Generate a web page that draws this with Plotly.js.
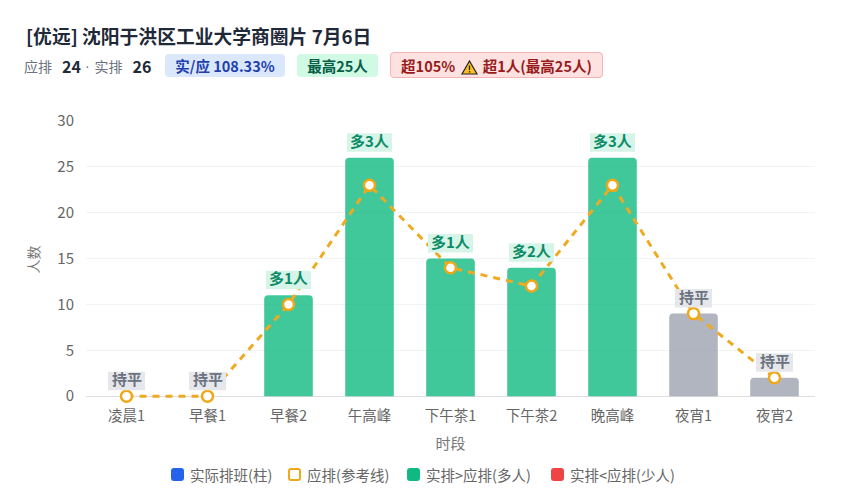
<!DOCTYPE html>
<html>
<head>
<meta charset="utf-8">
<script src="https://cdn.plot.ly/plotly-3.0.1.min.js"></script>
<style>
  html, body { margin: 0; padding: 0; background: #fff; }
  body { width: 846px; height: 500px; position: relative; overflow: hidden;
    font-family: "Noto Sans CJK SC", "Noto Sans", sans-serif; }
  #chart { position: absolute; left: 0; top: 0; width: 846px; height: 500px; }
  .title { position: absolute; left: 26px; top: 23px; font-size: 18.8px; line-height: 26px;
    font-weight: 700; color: #1f2937; white-space: nowrap; }
  .sub { position: absolute; left: 24px; top: 53px; height: 26px; display: flex; align-items: center;
    font-size: 14px; color: #6b7280; white-space: nowrap; }
  .sub b { color: #1f2937; font-size: 16px; margin: 0 4px 0 10px; }
  .sub i { font-style: normal; font-family: "Liberation Sans", sans-serif; margin-right: 5px; }
  .pill { position: absolute; top: 54px; height: 23px; line-height: 23px; border-radius: 4px;
    font-size: 14.5px; font-weight: 700; text-align: center; white-space: nowrap; }
  .blue { left: 165px; width: 120px; background: #dbe7fb; color: #1e40af; }
  .green { left: 297px; width: 81px; background: #d1fae5; color: #065f46; }
  .red { left: 390px; width: 213px; top: 52px; height: 26px; line-height: 25px; background: #fee2e2;
    color: #991b1b; border: 1px solid #f3b4b4; box-sizing: border-box; }
  .red svg { vertical-align: -3px; margin: 0 2px; }
  .swatch { position: absolute; top: 468px; width: 13px; height: 13px; box-sizing: border-box; border-radius: 3px; }
  .legend-text { position: absolute; top: 465px; line-height: 20px; font-size: 14.5px; color: #666; white-space: nowrap; }
</style>
</head>
<body>
<div id="chart"></div>
<div class="title">[优远] 沈阳于洪区工业大学商圈片 7月6日</div>
<div class="sub">应排<b>24</b><i>·</i>实排<b>26</b></div>
<div class="pill blue">实/应 108.33%</div>
<div class="pill green">最高25人</div>
<div class="pill red">超105% <svg width="17" height="15" viewBox="0 0 17 15"><path d="M8.5 1 L16 14 L1 14 Z" fill="#fbbf24" stroke="#222" stroke-width="1.2"/><path d="M8.5 5.5 V10 M8.5 11 V12.5" stroke="#222" stroke-width="1.3"/></svg> 超1人(最高25人)</div>
<div id="legend"></div>
<script>
const periods = ["凌晨1","早餐1","早餐2","午高峰","下午茶1","下午茶2","晚高峰","夜宵1","夜宵2"];
const actual = [0,0,11,26,15,14,26,9,2];
const planned = [0,0,10,23,14,12,23,9,2];
const yTicks = [0,5,10,15,20,25,30];
const legendNames = ["实际排班(柱)","应排(参考线)","实排>应排(多人)","实排<应排(少人)"];
const legendColors = ["#2563eb","#fff","#10b981","#ef4444"];
const legendBorders = ["#2563eb","#f0a818","#10b981","#ef4444"];
const legendLefts = [171,288,407,551];

const GREEN = "rgba(16,185,129,.8)", RED = "rgba(239,68,68,.8)", GRAY = "rgba(156,163,175,.8)";
const diffs = actual.map((v, i) => v - planned[i]);

const barColor = d => d > 0 ? GREEN : d < 0 ? RED : GRAY;
const label = d => d > 0 ? `多${d}人` : d < 0 ? `少${-d}人` : "持平";

document.getElementById("legend").innerHTML = legendNames.map((n, i) => `
  <span class="swatch" style="left:${legendLefts[i]}px;background:${legendColors[i]};border:2px solid ${legendBorders[i]}"></span>
  <span class="legend-text" style="left:${legendLefts[i] + 19}px">${n.replace("<", "&lt;")}</span>`).join("");

const traces = [
  {
    x: periods, y: actual, type: "bar", width: 0.6, showlegend: false, hoverinfo: "x+y",
    marker: { color: diffs.map(barColor) }
  },
  {
    x: periods, y: planned, type: "scatter", mode: "lines+markers", showlegend: false,
    line: { color: "#eeaa22", width: 3, dash: "7px,6px" },
    marker: { color: "#fff", size: 11, line: { color: "#f0a818", width: 2.5 } },
    cliponaxis: false
  }
];

// label text and its box are separate so the text can sit a bit higher in the box
const annotations = periods.map((p, i) => ({
  x: p, y: actual[i], yshift: 17.5, showarrow: false, text: label(diffs[i]),
  font: { size: 15, color: diffs[i] > 0 ? "#0b8a66" : "#6b7280", weight: 700 }
}));

const labelBoxes = periods.map((p, i) => {
  const half = diffs[i] === 0 ? 18.5 : 22.5;
  return {
    type: "rect", layer: "above", xref: "x", yref: "y",
    xsizemode: "pixel", ysizemode: "pixel", xanchor: i, yanchor: actual[i],
    x0: -half, x1: half, y0: 6, y1: 24.5,
    fillcolor: diffs[i] > 0 ? "#d6f5e8" : "#e5e7eb", line: { width: 0 }
  };
});

// range starts just below 0 so the dashed line at 0 isn't clipped; zeroline acts as the axis
const layout = {
  width: 846, height: 500,
  margin: { l: 86, r: 31, t: 121, b: 102.17 },
  paper_bgcolor: "rgba(0,0,0,0)", plot_bgcolor: "#fff",
  font: { family: '"Noto Sans CJK SC", "Noto Sans", sans-serif', size: 14, color: "#666" },
  bargap: 0.4, barcornerradius: 4, showlegend: false,
  xaxis: {
    type: "category", categoryorder: "array", categoryarray: periods, range: [-0.5, 8.5],
    title: { text: "时段", font: { size: 15, color: "#777" }, standoff: 14 },
    tickfont: { size: 14.5, color: "#666" }, ticks: "", showgrid: false, ticklabelstandoff: 7,
    showline: false, zeroline: false
  },
  yaxis: {
    range: [-0.2, 30], tickvals: yTicks,
    title: { text: "人数", font: { size: 14, color: "#777" }, standoff: 14 },
    tickfont: { size: 15, color: "#666" }, gridcolor: "#f1f3f5",
    zeroline: true, zerolinecolor: "#ddd", zerolinewidth: 1,
    showline: false, ticks: "", ticklabelstandoff: 11
  },
  annotations,
  shapes: labelBoxes
};

Plotly.newPlot("chart", traces, layout, { displayModeBar: false, responsive: false });
</script>
</body>
</html>
